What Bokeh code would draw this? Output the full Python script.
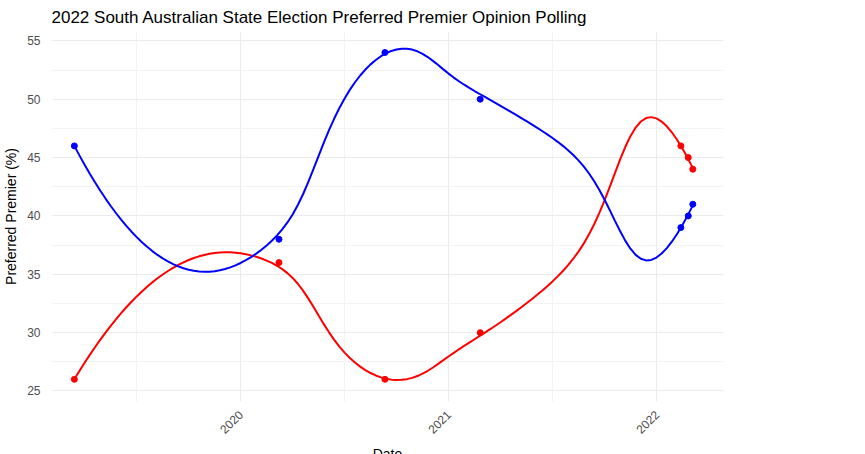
import numpy as np
from datetime import date
from bokeh.plotting import figure
from bokeh.models import FixedTicker, Legend, LegendItem
from bokeh.embed import file_html
from bokeh.resources import INLINE

poll_dates = ["2019-03-15", "2020-03-08", "2020-09-10", "2021-02-25",
              "2022-02-12", "2022-02-25", "2022-03-05"]
malinauskas = [26, 36, 26, 30, 46, 45, 44]
marshall = [46, 38, 54, 50, 39, 40, 41]
series = [("Malinauskas", malinauskas, "red"), ("Marshall", marshall, "blue")]


def to_year(s):
    d = date.fromisoformat(s)
    start = date(d.year, 1, 1)
    return d.year + (d - start).days / 365.25


def smooth(x, y, xs, bw=0.33):
    # local quadratic regression with a gaussian kernel
    x = np.asarray(x, float); y = np.asarray(y, float)
    out = []
    for x0 in xs:
        w = np.exp(-0.5 * ((x - x0) / bw) ** 2)
        X = np.column_stack([np.ones_like(x), x - x0, (x - x0) ** 2])
        W = np.diag(w)
        beta = np.linalg.lstsq(X.T @ W @ X, X.T @ W @ y, rcond=None)[0]
        out.append(beta[0])
    return np.array(out)


xs = [to_year(s) for s in poll_dates]
grid = np.linspace(min(xs), max(xs), 120)

p = figure(frame_width=672, frame_height=370, output_backend="svg", toolbar_location=None,
           x_range=(2019.09, 2022.32), y_range=(24.1, 55.8),
           title="2022 South Australian State Election Preferred Premier Opinion Polling",
           x_axis_label="Date", y_axis_label="Preferred Premier (%)")
p.title.text_font_size = "17px"
p.title.text_font_style = "normal"
p.title.text_color = "black"
p.outline_line_color = None
p.min_border_right = 10
p.min_border_left = 5

items = []
for name, vals, col in series:
    ln = p.line(grid, smooth(xs, vals, grid), line_color=col, line_width=2)
    pt = p.scatter(xs, vals, size=6, color=col)
    items.append(LegendItem(label=name, renderers=[ln, pt]))

leg = Legend(items=items, title="Premier", location="center")
leg.title_text_font_size = "14px"
leg.title_text_font_style = "normal"
leg.label_text_font_size = "12px"
leg.border_line_color = None
leg.background_fill_alpha = 0
leg.glyph_width = 20
p.add_layout(leg, "right")

p.xaxis.ticker = FixedTicker(ticks=[2020, 2021, 2022],
                             minor_ticks=[2019.5, 2020.5, 2021.5, 2022.5])
p.xaxis.major_label_overrides = {2020: "2020", 2021: "2021", 2022: "2022"}
p.xaxis.major_label_orientation = 0.785
p.yaxis.ticker = FixedTicker(ticks=[25, 30, 35, 40, 45, 50, 55],
                             minor_ticks=[22.5, 27.5, 32.5, 37.5, 42.5, 47.5, 52.5, 57.5])
for ax in (p.xaxis, p.yaxis):
    ax.axis_line_color = None
    ax.major_tick_line_color = None
    ax.minor_tick_line_color = None
    ax.major_label_text_color = "#4d4d4d"
    ax.major_label_text_font_size = "12px"
    ax.axis_label_text_font_size = "14px"
    ax.axis_label_text_font_style = "normal"
    ax.axis_label_text_color = "black"
for g in (p.xgrid, p.ygrid):
    g.grid_line_color = "#ebebeb"
    g.minor_grid_line_color = "#f3f3f3"

open("out.html", "w").write(file_html(p, INLINE))
